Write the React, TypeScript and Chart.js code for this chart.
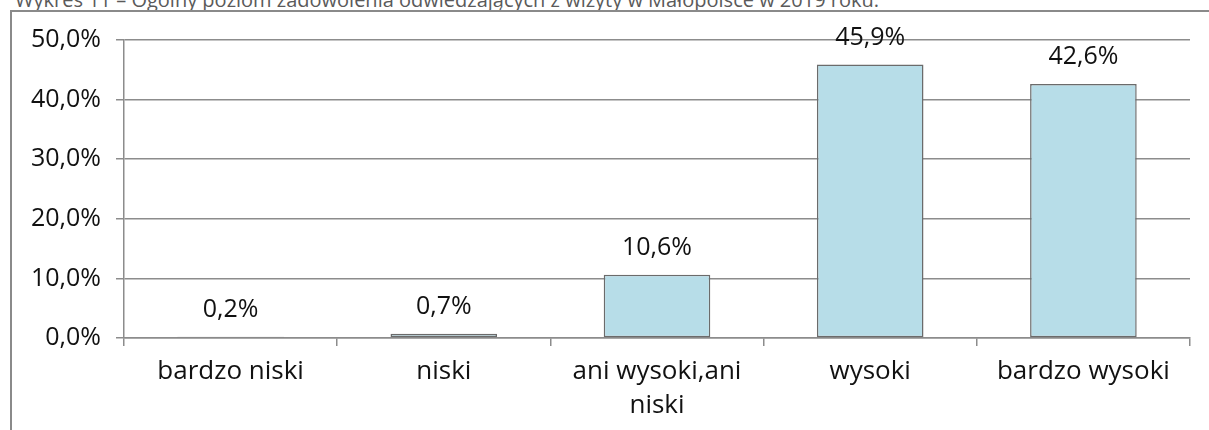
import React, { useEffect, useRef } from 'react';
import { Chart, registerables } from 'chart.js';

Chart.register(...registerables);

const titleText = 'Wykres 11 – Ogólny poziom zadowolenia odwiedzających z wizyty w Małopolsce w 2019 roku.';
const categories: (string | string[])[] = ['bardzo niski', 'niski', ['ani wysoki,ani', 'niski'], 'wysoki', 'bardzo wysoki'];
const values = [0.2, 0.7, 10.6, 45.9, 42.6];
const yMin = 0;
const yMax = 50;
const yStep = 10;

const fmt = (v: number) => v.toFixed(1).replace('.', ',') + '%';

const dataLabels = {
  id: 'dataLabels',
  afterDatasetsDraw(chart: any) {
    const ctx = chart.ctx;
    const meta = chart.getDatasetMeta(0);
    ctx.save();
    ctx.font = '25px "Open Sans"';
    ctx.fillStyle = '#111';
    ctx.textAlign = 'center';
    ctx.textBaseline = 'middle';
    meta.data.forEach((el: any, i: number) => {
      ctx.fillText(fmt(values[i]), el.x, el.y - 27);
    });
    ctx.restore();
  },
};

export default function App() {
  const ref = useRef<HTMLCanvasElement>(null);
  useEffect(() => {
    if (!ref.current) return;
    const chart = new Chart(ref.current, {
      type: 'bar',
      data: {
        labels: categories as any,
        datasets: [
          {
            data: values,
            backgroundColor: '#B7DDE8',
            borderColor: '#6b6b6b',
            borderWidth: 1.5,
            borderSkipped: false,
            barPercentage: 0.5,
            categoryPercentage: 1,
          },
        ],
      },
      options: {
        animation: false,
        responsive: false,
        maintainAspectRatio: false,
        devicePixelRatio: 1,
        layout: { padding: { left: 0, right: 19, top: 40, bottom: 0 } },
        plugins: { legend: { display: false }, tooltip: { enabled: false }, title: { display: false } },
        scales: {
          x: {
            grid: { display: true, drawOnChartArea: false, drawTicks: true, tickLength: 8, offset: true, color: '#8c8c8c', lineWidth: 1.5 },
            border: { display: true, color: '#8c8c8c', width: 1.5 },
            ticks: {
              color: '#111',
              font: { family: '"Open Sans"', size: 26, lineHeight: 1.31 },
              padding: 9,
              maxRotation: 0,
              autoSkip: false,
            },
            afterFit: (s: any) => { s.height = 92; },
          },
          y: {
            min: yMin,
            max: yMax,
            grid: { color: '#8c8c8c', lineWidth: 1.5, tickLength: 8, drawTicks: true },
            border: { display: true, color: '#8c8c8c', width: 1.5 },
            ticks: {
              stepSize: yStep,
              color: '#111',
              font: { family: '"Open Sans"', size: 25 },
              padding: 15,
              callback: (v: any) => fmt(Number(v)),
            },
            afterFit: (s: any) => { s.width = 124; },
          },
        },
      },
      plugins: [dataLabels],
    });
    (document as any).fonts?.ready?.then(() => chart.update());
    return () => chart.destroy();
  }, []);

  return (
    <div style={{ position: 'absolute', left: 0, top: 0, width: 1209, height: 430, overflow: 'hidden', background: '#fff' }}>
      <div
        style={{
          position: 'absolute',
          left: 15,
          top: -10,
          fontFamily: '"Open Sans"',
          fontSize: 20,
          lineHeight: '20px',
          color: '#5a5a5a',
          whiteSpace: 'nowrap',
        }}
      >
        {titleText}
      </div>
      <div
        style={{
          position: 'absolute',
          left: 10,
          top: 10,
          width: 1400,
          height: 600,
          borderLeft: '2px solid #8a8a8a',
          borderTop: '2px solid #8a8a8a',
        }}
      />
      <canvas ref={ref} width={1209} height={430} style={{ position: 'absolute', left: 0, top: 0, width: 1209, height: 430 }} />
    </div>
  );
}
